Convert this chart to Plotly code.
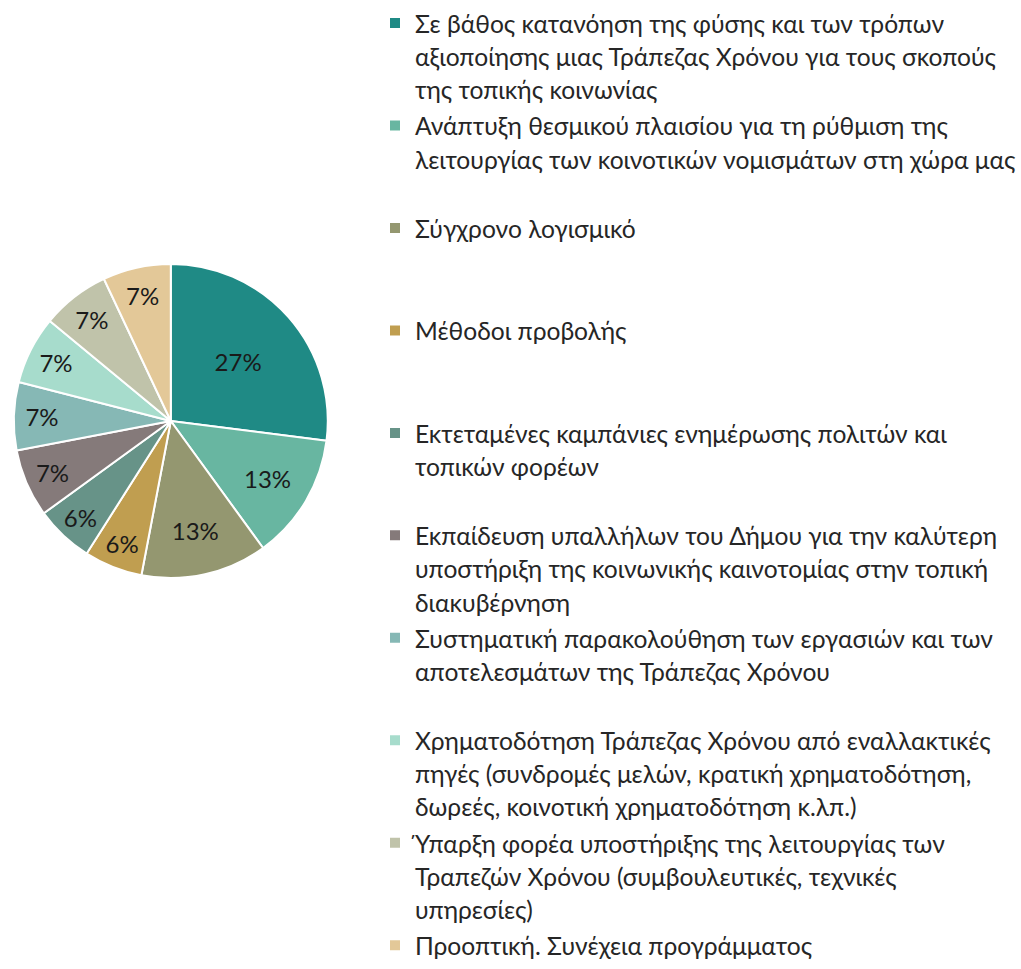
import plotly.graph_objects as go

# Priority areas for a Time Bank, share of responses (%)
categories = [
    ["Σε βάθος κατανόηση της φύσης και των τρόπων",
     "αξιοποίησης μιας Τράπεζας Χρόνου για τους σκοπούς",
     "της τοπικής κοινωνίας"],
    ["Ανάπτυξη θεσμικού πλαισίου για τη ρύθμιση της",
     "λειτουργίας των κοινοτικών νομισμάτων στη χώρα μας"],
    ["Σύγχρονο λογισμικό"],
    ["Μέθοδοι προβολής"],
    ["Εκτεταμένες καμπάνιες ενημέρωσης πολιτών και",
     "τοπικών φορέων"],
    ["Εκπαίδευση υπαλλήλων του Δήμου για την καλύτερη",
     "υποστήριξη της κοινωνικής καινοτομίας στην τοπική",
     "διακυβέρνηση"],
    ["Συστηματική παρακολούθηση των εργασιών και των",
     "αποτελεσμάτων της Τράπεζας Χρόνου"],
    ["Χρηματοδότηση Τράπεζας Χρόνου από εναλλακτικές",
     "πηγές (συνδρομές μελών, κρατική χρηματοδότηση,",
     "δωρεές, κοινοτική χρηματοδότηση κ.λπ.)"],
    ["Ύπαρξη φορέα υποστήριξης της λειτουργίας των",
     "Τραπεζών Χρόνου (συμβουλευτικές, τεχνικές",
     "υπηρεσίες)"],
    ["Προοπτική. Συνέχεια προγράμματος"],
]
shares = [27, 13, 13, 6, 6, 7, 7, 7, 7, 7]

colors = ["#1F8A85", "#68B6A1", "#949770", "#C09E50", "#679388",
          "#857A7A", "#86B8B5", "#A7DCCC", "#C0C3AA", "#E3C898"]

LEGEND_LINES = 3
TEXT_PX = 24.6
FONT = "Lato, Liberation Sans, sans-serif"


def legend_label(lines, pad=True):
    # entries occupy the same number of rows so they are evenly spaced
    rows = [f'<span style="font-size:{TEXT_PX}px">{ln}</span>' for ln in lines]
    if pad:
        rows += [" "] * (LEGEND_LINES - len(lines))
    return "<br>".join(rows)


labels = [legend_label(c, pad=(i < len(categories) - 1)) for i, c in enumerate(categories)]

fig = go.Figure(go.Pie(
    labels=labels,
    values=shares,
    sort=False,
    direction="clockwise",
    rotation=0,
    marker=dict(colors=colors, line=dict(color="white", width=2)),
    texttemplate="%{percent:.0%}",
    textposition="inside",
    insidetextorientation="horizontal",
    textfont=dict(family=FONT, size=24, color="#1a1a1a"),
    hoverinfo="label+percent",
    domain=dict(x=[14 / 1021, 332 / 1021], y=[1 - 580 / 969, 1 - 262 / 969]),
))

fig.update_layout(
    width=1021,
    height=969,
    margin=dict(l=0, r=0, t=0, b=0),
    paper_bgcolor="white",
    plot_bgcolor="white",
    showlegend=True,
    legend=dict(
        x=380 / 1021,
        xanchor="left",
        y=1.0,
        yanchor="top",
        valign="top",
        font=dict(family=FONT, size=25.5, color="#262626"),
        bgcolor="rgba(0,0,0,0)",
    ),
)

fig.write_html("out.html")
